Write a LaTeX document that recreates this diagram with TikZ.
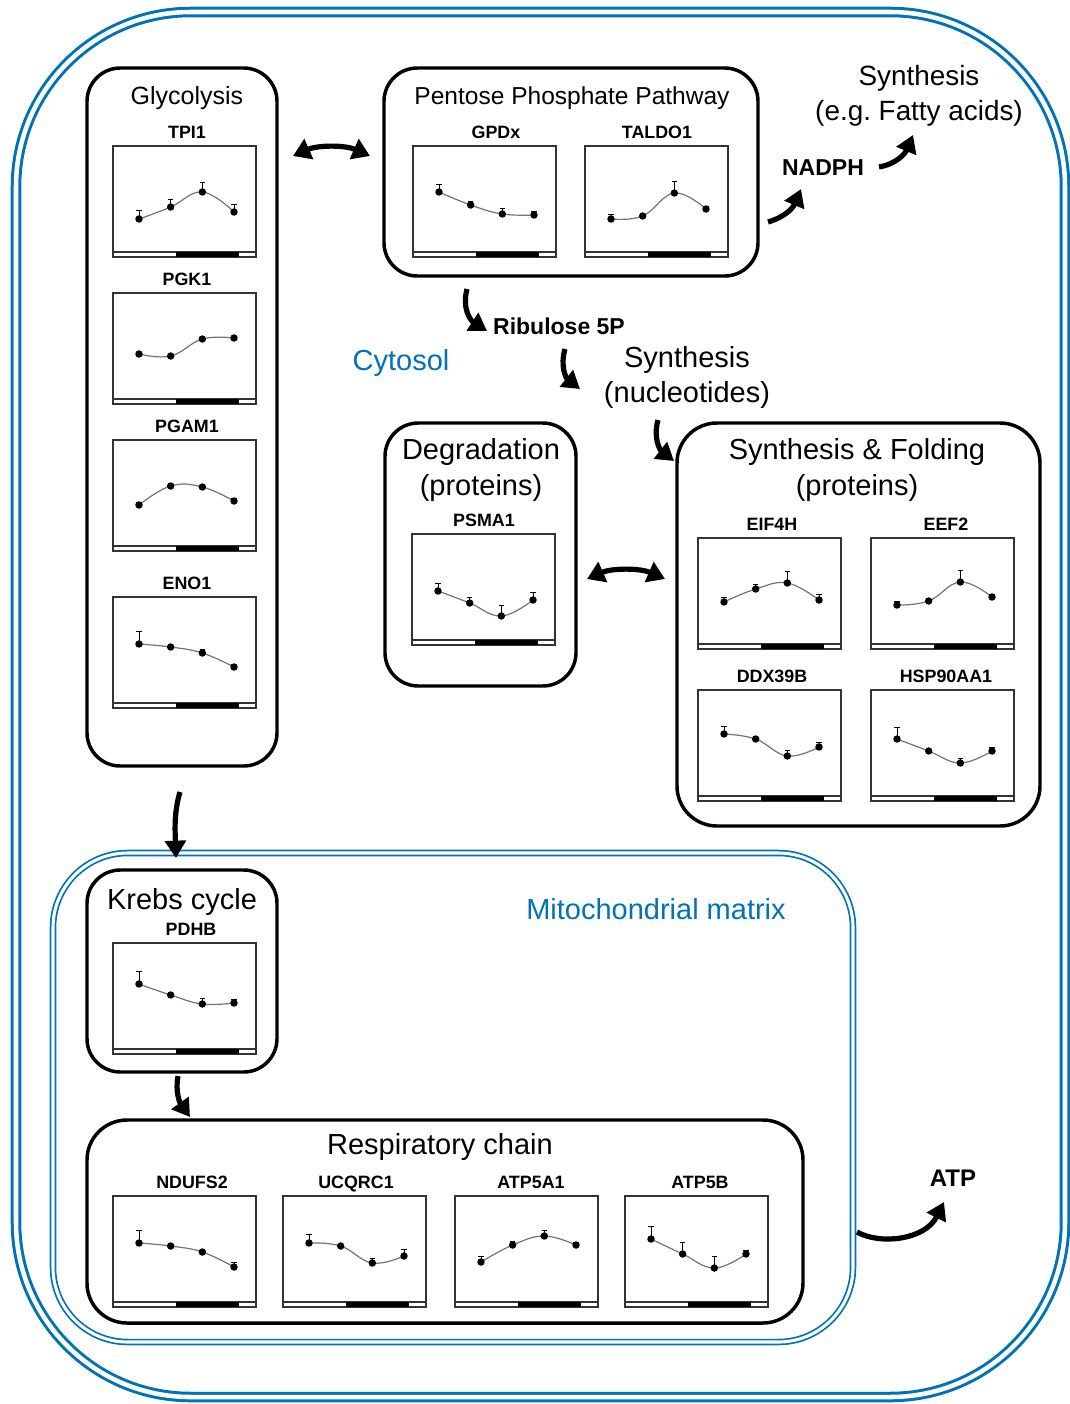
\documentclass[tikz,border=0pt]{standalone}
\usepackage{fontspec}
\setmainfont{Liberation Sans}
\usetikzlibrary{arrows.meta}
\definecolor{cellblue}{HTML}{0072BC}
\frenchspacing
\tikzset{
  pbox/.style={draw=black, line width=2.6pt, rounded corners=25pt},
  pframe/.style={draw=black!80, line width=0.9pt},
  gcurve/.style={draw=black!55, line width=0.9pt},
  ebar/.style={draw=black, line width=0.7pt},
  gene/.style={font=\fontsize{13.4pt}{15pt}\selectfont\bfseries, inner sep=0pt, anchor=base},
  bigtext/.style={font=\fontsize{21.75pt}{26pt}\selectfont, inner sep=0pt, anchor=base},
  midtext/.style={font=\fontsize{18.75pt}{22pt}\selectfont, inner sep=0pt, anchor=base},
  fattytext/.style={font=\fontsize{20.9pt}{24pt}\selectfont, inner sep=0pt, anchor=base},
  boldlab/.style={font=\fontsize{17.25pt}{20pt}\selectfont\bfseries, inner sep=0pt, anchor=base},
  flow/.style={line width=3.9pt, -{Triangle[length=13pt,width=15.5pt]}},
  flowtwo/.style={line width=3.9pt, {Triangle[length=13pt,width=16pt]}-{Triangle[length=13pt,width=16pt]}},
}
% #1 left x, #2 top y, #3 label, #4 list of y/errorbar, #5 label x (relative)
\newcommand{\mypanel}[5]{%
  \begin{scope}[shift={(#1,#2)}]
    \node[gene] (lab#3) at (#5,-7.5) {#3};
    \draw[pframe] (0,0) rectangle (143,111);
    \draw[pframe] (0,106) -- (143,106);
    \fill[black] (63,106) rectangle (126,111);
    \foreach \yy/\ee [count=\i] in {#4} {
      \pgfmathsetmacro{\xx}{26+(\i-1)*31.67}
      \coordinate (#3p\i) at (\xx,\yy);
    }
    \draw[gcurve] plot[smooth, tension=0.7] coordinates {(#3p1) (#3p2) (#3p3) (#3p4)};
    \foreach \yy/\ee [count=\i] in {#4} {
      \draw[ebar] (#3p\i) -- ++(0,-\ee) ++(-2.6,0) -- ++(5.2,0);
      \fill[black] (#3p\i) circle[radius=2.8pt];
    }
  \end{scope}}
\begin{document}
\begin{tikzpicture}[x=0.75pt,y=-0.75pt]
\useasboundingbox (0,0) rectangle (1070,1404);
% cell and mitochondrion membranes
\draw[cellblue, line width=2.25pt, double=white, double distance=3.4pt, rounded corners=131pt] (16,12) rectangle (1065,1397);
\draw[cellblue, line width=1.3pt, double=white, double distance=2.3pt, rounded corners=56pt] (53,853) rectangle (853,1342);
% boxes
\draw[pbox] (87,68) rectangle (277,766);
\draw[pbox] (384,68) rectangle (758,276);
\draw[pbox] (385,423) rectangle (576,686);
\draw[pbox, rounded corners=30pt] (677,423) rectangle (1040,826);
\draw[pbox] (87,870) rectangle (277,1072);
\draw[pbox, rounded corners=30pt] (87,1120) rectangle (803,1323);
% titles
\node[midtext] (glyt) at (187,104) {Glycolysis};
\node[font=\fontsize{18.4pt}{22pt}\selectfont, inner sep=0pt, anchor=base] (pppt) at (572,104) {Pentose Phosphate Pathway};
\node[fattytext] (fatA) at (919,85) {Synthesis};
\node[fattytext] (fatB) at (919,120) {(e.g. Fatty acids)};
\node[boldlab] (nadph) at (823,175) {NADPH};
\node[boldlab] (ribu) at (559,334) {Ribulose 5P};
\node[bigtext, text=cellblue] (cyto) at (401,370) {Cytosol};
\node[bigtext] (nucA) at (687,367) {Synthesis};
\node[bigtext] (nucB) at (687,402) {(nucleotides)};
\node[bigtext] (degA) at (481,459) {Degradation};
\node[bigtext] (degB) at (481,495) {(proteins)};
\node[bigtext] (sfA) at (857,459) {Synthesis \& Folding};
\node[bigtext] (sfB) at (857,495) {(proteins)};
\node[bigtext] (krebt) at (182,909) {Krebs cycle};
\node[bigtext, text=cellblue] (mito) at (656,919) {Mitochondrial matrix};
\node[bigtext] (respt) at (440,1154) {Respiratory chain};
\node[font=\fontsize{18pt}{22pt}\selectfont\bfseries, inner sep=0pt, anchor=base] (atp) at (953,1186) {ATP};
% panels
\mypanel{113}{146}{TPI1}{73/9,61/8,46/10,66/8}{74}
\mypanel{113}{293}{PGK1}{61/2,63/2,46/2,45/2}{74}
\mypanel{113}{440}{PGAM1}{65/3,46/3,47/3,61/3}{74}
\mypanel{113}{597}{ENO1}{47/13,50/3,56/4,70/3}{74}
\mypanel{413}{146}{GPDx}{46/8,59/4,68/6,69/4}{83}
\mypanel{585}{146}{TALDO1}{73/5,70/3,47/12,63/3}{72}
\mypanel{412}{534}{PSMA1}{57/8,69/6,82/11,66/8}{72}
\mypanel{698}{538}{EIF4H}{64/5,51/5,45/12,62/6}{74}
\mypanel{871}{538}{EEF2}{67/4,63/3,44/12,59/3}{75}
\mypanel{698}{690}{DDX39B}{44/8,49/3,66/6,57/5}{74}
\mypanel{871}{690}{HSP90AA1}{49/12,61/3,73/5,61/4}{75}
\mypanel{113}{943}{PDHB}{41/13,52/3,61/6,60/4}{78}
\mypanel{113}{1196}{NDUFS2}{47/13,50/3,56/3,71/5}{79}
\mypanel{283}{1196}{UCQRC1}{47/9,50/2,67/5,60/7}{73}
\mypanel{455}{1196}{ATP5A1}{66/6,49/4,40/6,49/3}{76}
\mypanel{625}{1196}{ATP5B}{43/13,58/12,72/12,58/4}{75}
% arrow end points
\coordinate (gpL) at (293,156);
\coordinate (gpR) at (370,156);
\coordinate (dsL) at (587,579);
\coordinate (dsR) at (665,579);
\coordinate (nA) at (768,222);
\coordinate (nB) at (801,189);
\coordinate (fA) at (879,167);
\coordinate (fB) at (913,135);
\coordinate (rA) at (467,289);
\coordinate (rB) at (487,331);
\coordinate (sA) at (565,349);
\coordinate (sB) at (580,389);
\coordinate (pA) at (658,420);
\coordinate (pB) at (674,461);
\coordinate (kA) at (180,792);
\coordinate (kB) at (176,858);
\coordinate (cA) at (178,1076);
\coordinate (cB) at (190,1117);
\coordinate (tA) at (857,1232);
\coordinate (tB) at (944,1202);
% arrows
\draw[flowtwo] (gpL) .. controls (318,145) and (345,145) .. (gpR);
\draw[flowtwo] (dsL) .. controls (612,568) and (640,568) .. (dsR);
\draw[flow] (nA) .. controls (785,217) and (793,208) .. (nB);
\draw[flow] (fA) .. controls (896,164) and (905,154) .. (fB);
\draw[flow] (rA) .. controls (462,308) and (470,320) .. (rB);
\draw[flow] (sA) .. controls (560,366) and (566,378) .. (sB);
\draw[flow] (pA) .. controls (653,438) and (660,450) .. (pB);
\draw[flow] (kA) .. controls (174,812) and (175,830) .. (kB);
\draw[flow] (cA) .. controls (175,1092) and (180,1103) .. (cB);
\draw[flow] (tA) .. controls (880,1245) and (925,1240) .. (tB);
\end{tikzpicture}
\end{document}
